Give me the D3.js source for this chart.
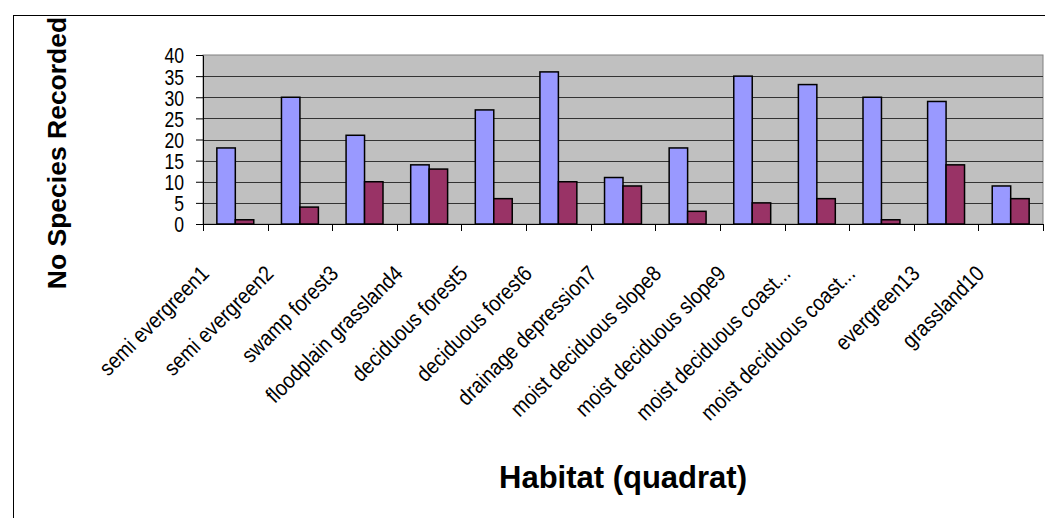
<!DOCTYPE html>
<html>
<head>
<meta charset="utf-8">
<script src="https://cdn.jsdelivr.net/npm/d3@7"></script>
<style>
  html, body { margin: 0; padding: 0; background: #fff; }
  svg { display: block; }
  .narrow { font-family: "Liberation Sans", Arial, sans-serif; }
  .title { font-family: "Liberation Sans", Arial, sans-serif; font-weight: bold; }
</style>
</head>
<body>
<svg id="chart" width="1045" height="518"></svg>
<script>
// Habitat quadrats along the x axis
const categories = [
  "semi evergreen1", "semi evergreen2", "swamp forest3", "floodplain grassland4",
  "deciduous forest5", "deciduous forest6", "drainage depression7",
  "moist deciduous slope8", "moist deciduous slope9", "moist deciduous coast...",
  "moist deciduous coast...", "evergreen13", "grassland10"
];
// Two recorded series per quadrat
const seriesA = [18, 30, 21, 14, 27, 36, 11, 18, 35, 33, 30, 29, 9];
const seriesB = [1, 4, 10, 13, 6, 10, 9, 3, 5, 6, 1, 14, 6];
const yTicks = [0, 5, 10, 15, 20, 25, 30, 35, 40];

const svg = d3.select("#chart");
const plot = { left: 203, top: 55, right: 1043, bottom: 224 };

// Outer chart frame (only its top and left edges fall inside the view)
svg.append("rect")
  .attr("x", 13.5).attr("y", 15.5)
  .attr("width", 1100).attr("height", 600)
  .attr("fill", "none").attr("stroke", "#000").attr("stroke-width", 1);

const x = d3.scaleBand().domain(d3.range(categories.length))
  .range([plot.left, plot.right]).paddingInner(0).paddingOuter(0);
const y = d3.scaleLinear().domain([0, 40]).range([plot.bottom, plot.top]);

// Plot area background
svg.append("rect")
  .attr("x", plot.left).attr("y", plot.top)
  .attr("width", plot.right - plot.left).attr("height", plot.bottom - plot.top)
  .attr("fill", "#c0c0c0").attr("stroke", "#808080").attr("stroke-width", 1);

// Horizontal gridlines
svg.append("g").selectAll("line")
  .data(yTicks.filter(t => t > 0 && t < 40))
  .join("line")
  .attr("x1", plot.left).attr("x2", plot.right)
  .attr("y1", d => Math.round(y(d)) + 0.5).attr("y2", d => Math.round(y(d)) + 0.5)
  .attr("stroke", "#333").attr("stroke-width", 1);

// Bars: two per group, gap width 150% of a bar
const bw = x.bandwidth() / 3.5;
const groups = svg.append("g").selectAll("g")
  .data(categories.map((c, i) => ({ i, a: seriesA[i], b: seriesB[i] })))
  .join("g");
groups.append("rect")
  .attr("x", d => x(d.i) + bw * 0.75)
  .attr("y", d => y(d.a))
  .attr("width", bw)
  .attr("height", d => y(0) - y(d.a))
  .attr("fill", "#9999ff").attr("stroke", "#000").attr("stroke-width", 1.5);
groups.append("rect")
  .attr("x", d => x(d.i) + bw * 1.75)
  .attr("y", d => y(d.b))
  .attr("width", bw)
  .attr("height", d => y(0) - y(d.b))
  .attr("fill", "#993366").attr("stroke", "#000").attr("stroke-width", 1.5);

// Y axis
const yAxis = svg.append("g")
  .attr("transform", `translate(${plot.left},0)`)
  .call(d3.axisLeft(y).tickValues(yTicks).tickSize(7).tickPadding(11).tickSizeOuter(0));
yAxis.select(".domain").attr("stroke", "#000");
yAxis.selectAll(".tick line").attr("stroke", "#000");
// condensed tick numerals
yAxis.selectAll(".tick text")
  .attr("class", "narrow")
  .attr("font-size", 22).attr("fill", "#000")
  .attr("x", 0).attr("dy", "0.36em")
  .attr("transform", "translate(-19,0) scale(0.8,1)");

// X axis: ticks at group boundaries
const bounds = d3.range(categories.length + 1).map(i => plot.left + i * x.step());
const xAxisG = svg.append("g");
xAxisG.append("line")
  .attr("x1", plot.left).attr("x2", plot.right)
  .attr("y1", plot.bottom + 0.5).attr("y2", plot.bottom + 0.5)
  .attr("stroke", "#000");
xAxisG.selectAll("line.tk").data(bounds).join("line")
  .attr("class", "tk")
  .attr("x1", d => Math.round(d) + 0.5).attr("x2", d => Math.round(d) + 0.5)
  .attr("y1", plot.bottom).attr("y2", plot.bottom + 7)
  .attr("stroke", "#000");

// Rotated, condensed category labels
svg.append("g").selectAll("text")
  .data(categories)
  .join("text")
  .attr("class", "narrow")
  .attr("font-size", 22)
  .attr("text-anchor", "end")
  .attr("transform", (d, i) => `translate(${x(i) + x.bandwidth() / 2 - 25},${plot.bottom + 51}) rotate(-45) scale(0.88,1)`)
  .text(d => d);

// Axis titles
svg.append("text")
  .attr("class", "title")
  .attr("font-size", 26.5)
  .attr("text-anchor", "middle")
  .attr("transform", "translate(66,153) rotate(-90)")
  .text("No Species Recorded");

svg.append("text")
  .attr("class", "title")
  .attr("font-size", 31)
  .attr("text-anchor", "middle")
  .attr("x", 623).attr("y", 488)
  .text("Habitat (quadrat)");
</script>
</body>
</html>
